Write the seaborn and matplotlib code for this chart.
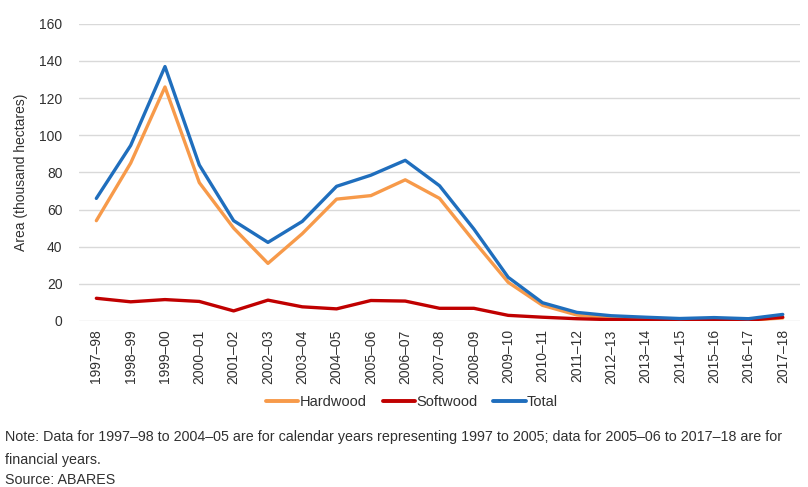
import matplotlib
matplotlib.use("Agg")
import matplotlib.pyplot as plt
import pandas as pd
import seaborn as sns

# plantation establishment by type, thousand hectares
years = [
    "1997–98", "1998–99", "1999–00", "2000–01", "2001–02", "2002–03", "2003–04",
    "2004–05", "2005–06", "2006–07", "2007–08", "2008–09", "2009–10", "2010–11",
    "2011–12", "2012–13", "2013–14", "2014–15", "2015–16", "2016–17", "2017–18",
]
hardwood = [54, 85, 126, 74.5, 50, 31, 47, 65.6, 67.5, 76, 66, 43, 20.8, 8.4,
            3.2, 1.5, 0.8, 0.5, 0.8, 0.4, 1.6]
softwood = [12.2, 10.3, 11.5, 10.5, 5.4, 11.2, 7.6, 6.5, 11, 10.7, 6.8, 6.8,
            3, 2, 1.2, 0.7, 0.5, 0.4, 0.5, 0.4, 2]
total = [66, 94.5, 137, 84, 54, 42.3, 53.6, 72.5, 78.5, 86.5, 72.8, 49.5, 23.5,
         9.8, 4.6, 2.8, 2, 1.3, 1.8, 1.2, 3.5]

series_names = ["Hardwood", "Softwood", "Total"]
palette = {"Hardwood": "#F79A4A", "Softwood": "#C00000", "Total": "#1F6EBD"}

df = pd.concat([
    pd.DataFrame({"year": years, "area": vals, "type": name})
    for name, vals in zip(series_names, [hardwood, softwood, total])
])

sns.set_style("white")
plt.rcParams["font.family"] = ["Liberation Sans", "DejaVu Sans"]
text_color = "#303030"

fig = plt.figure(figsize=(8.08, 4.87), dpi=100)
ax = fig.add_axes([0.098, 0.341, 0.892, 0.610])

sns.lineplot(data=df, x="year", y="area", hue="type", palette=palette,
             hue_order=series_names, sort=False, linewidth=2.4, ax=ax,
             legend=False)

ax.set_xlim(-0.5, len(years) - 0.5)
ax.set_ylim(0, 160)
ax.set_yticks(range(0, 161, 20))
ax.yaxis.grid(True, color="#D9D9D9", linewidth=1)
ax.set_axisbelow(True)
for s in ax.spines.values():
    s.set_visible(False)
ax.tick_params(axis="both", length=0, labelsize=10, colors=text_color)
ax.tick_params(axis="x", pad=6)
ax.tick_params(axis="y", pad=12)
plt.setp(ax.get_xticklabels(), rotation=90)
ax.set_xlabel("")
ax.set_ylabel("Area (thousand hectares)", fontsize=10, color=text_color, labelpad=8)

handles = [plt.Line2D([], [], color=palette[n], linewidth=2.8) for n in series_names]
fig.legend(handles, series_names, loc="center", bbox_to_anchor=(0.51, 0.174),
           ncol=3, frameon=False, fontsize=10.5, handlelength=2.2,
           handletextpad=0.1, columnspacing=1.1, labelcolor=text_color)

note_size = 10.3
fig.text(0.006, 0.103,
         "Note: Data for 1997–98 to 2004–05 are for calendar years representing 1997 to 2005; "
         "data for 2005–06 to 2017–18 are for",
         fontsize=note_size, color=text_color, va="center")
fig.text(0.006, 0.056, "financial years.", fontsize=note_size, color=text_color, va="center")
fig.text(0.006, 0.014, "Source: ABARES", fontsize=note_size, color=text_color, va="center")

fig.savefig("out.png", dpi=100)
